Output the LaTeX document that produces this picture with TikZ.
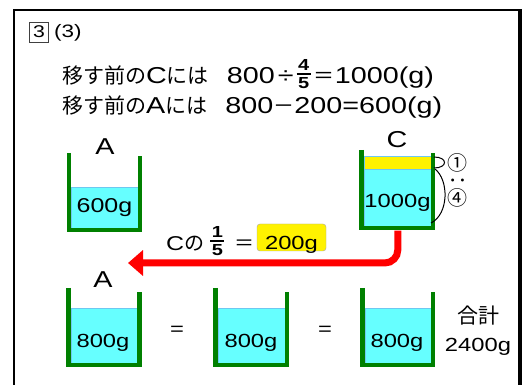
\documentclass[tikz,border=0pt]{standalone}
\usepackage{fontspec}
\setmainfont{Liberation Sans}[FakeStretch=1.25]
\newfontfamily\jp{Noto Sans CJK JP}
\usetikzlibrary{arrows.meta}

\definecolor{watercol}{RGB}{102,255,255}
\definecolor{waterline}{RGB}{110,200,240}
\definecolor{wallgreen}{RGB}{0,128,0}

% bold stacked fraction
\newcommand\bfrac[2]{\raisebox{-5pt}{\fontsize{16}{16}\selectfont\bfseries
  \vbox{\halign{\hfil##\hfil\cr\kern1.5pt#1\kern1.5pt\cr
  \noalign{\kern3pt\hrule height1.5pt\kern3pt}#2\cr}}}}

\begin{document}
\begin{tikzpicture}[
  x=1pt, y=-1pt,
  wall/.style={draw=wallgreen, line width=4.5pt},
  water/.style={fill=watercol, draw=waterline, line width=0.6pt, inner sep=0pt, anchor=north west},
  qty/.style={anchor=base, inner sep=0pt, font=\fontsize{19}{19}\selectfont},
  tag/.style={anchor=base, inner sep=0pt, font=\fontsize{23}{23}\selectfont},
  calc/.style={anchor=base west, inner sep=0pt, font=\fontsize{23}{23}\selectfont},
  ratio/.style={inner sep=0pt, font={\jp\fontsize{20}{20}\selectfont}},
  arrow/.style={-{Triangle[length=15pt, width=25pt]}, red, line width=7pt, rounded corners=13pt}
]
\useasboundingbox (0,0) rectangle (523,385);
\fill[white] (0,0) rectangle (523,385);

% frame
\draw[line width=2pt] (14,390) -- (14,10.5) -- (520,10.5);
\draw[line width=4pt] (520,9.5) -- (520,390);

% heading
\node[draw=darkgray, line width=0.8pt, minimum width=19, minimum height=20, inner sep=0pt,
  font=\fontsize{17}{17}\selectfont] (num) at (39,32) {3};
\node[anchor=west, inner sep=0pt, font=\fontsize{18}{18}\selectfont] (part) at (54,33) {(3)};
\node[calc] (calcC) at (62,84) {{\jp\fontsize{21}{21}\selectfont 移す前の}C{\jp\fontsize{21}{21}\selectfont には}\hspace{18pt}800\hspace{3pt}÷\hspace{3pt}\bfrac{4}{5}\hspace{3pt}{\jp\fontsize{21}{21}\selectfont ＝}1000(g)};
\node[calc] (calcA) at (62,114) {{\jp\fontsize{21}{21}\selectfont 移す前の}A{\jp\fontsize{21}{21}\selectfont には}\hspace{18pt}800{\jp\fontsize{21}{21}\selectfont －}200=600(g)};

% top row
\node[water, minimum width=67, minimum height=41] (wA) at (71,187) {};
\draw[wall] (69,153) -- (69,230) -- (140,230) -- (140,156);
\node[tag] (labA) at (105,155) {A};
\node[qty, font=\fontsize{20}{20}\selectfont] (qA) at (104.5,213) {600g};

\node[water, fill=yellow, minimum width=67, minimum height=12.5] (yC) at (364,156.5) {};
\node[water, minimum width=67, minimum height=57] (wC) at (364,169) {};
\draw[wall] (361.5,150) -- (361.5,228) -- (433,228) -- (433,153);
\node[tag] (labC) at (397,148) {C};
\node[qty] (qC) at (397.5,208) {1000g};

\draw[line width=1pt] (434,157) .. controls (448,157) and (448,168) .. (434,168);
\draw[line width=1pt] (435,169) .. controls (449,180) and (449,214) .. (431,223);
\node[ratio] (r1) at (457,163) {①};
\node[ratio, rotate=90] (rc) at (459,181) {：};
\node[ratio] (r4) at (457,198) {④};

% transfer
\coordinate (tipA) at (128,263);
\draw[arrow] ([yshift=-4pt]wC.south) |- (tipA);
\node[anchor=base west, inner sep=0pt, font=\fontsize{20}{20}\selectfont] (part15) at (166,251)
  {C{\jp の}\hspace{6pt}\bfrac{1}{5}\hspace{10pt}{\jp ＝}};
\node[fill=yellow, draw=gray!70, rounded corners=3pt, anchor=base, minimum width=69, minimum height=27,
  inner sep=0pt, text height=25pt, text depth=0pt, font=\fontsize{19}{19}\selectfont] (ans) at (291.5,250) {200g};

% bottom row
\node[water, minimum width=66, minimum height=55] (wA2) at (71,308) {};
\draw[wall] (68.5,288) -- (68.5,365) -- (139.5,365) -- (139.5,292);
\node[tag] (labA2) at (103,288) {A};
\node[qty] (qA2) at (103,348) {800g};
\node[qty] (eq1) at (177,336) {=};

\node[water, minimum width=67, minimum height=55] (wB2) at (218,308) {};
\draw[wall] (215.5,288) -- (215.5,365) -- (287,365) -- (287,292);
\node[qty] (qB2) at (251,348) {800g};
\node[qty] (eq2) at (325,336) {=};

\node[water, minimum width=66, minimum height=55] (wC2) at (365,308) {};
\draw[wall] (362.5,288) -- (362.5,365) -- (433,365) -- (433,292);
\node[qty] (qC2) at (397,348) {800g};

\node[font={\jp\fontsize{21}{21}\selectfont}, inner sep=0pt] (sumL) at (478,316) {合計};
\node[qty] (sumV) at (478,352) {2400g};
\end{tikzpicture}
\end{document}
